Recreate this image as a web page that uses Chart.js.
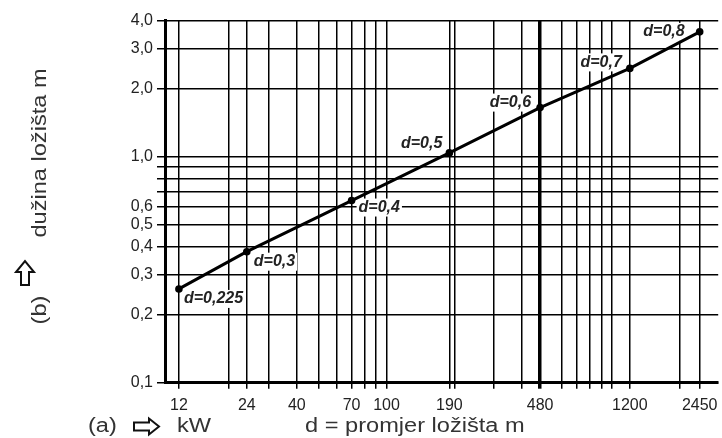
<!DOCTYPE html>
<html>
<head>
<meta charset="utf-8">
<script src="https://cdn.jsdelivr.net/npm/chart.js@4"></script>
<style>
  html, body { margin: 0; padding: 0; background: #ffffff; }
  #c { display: block; }
</style>
</head>
<body>
<canvas id="c" width="722" height="438"></canvas>
<script>
// ---- data ----
const powerKW   = [12, 24, 70, 190, 480, 1200, 2450];
const lengthM   = [0.26, 0.38, 0.64, 1.04, 1.65, 2.46, 3.57];
const diameterM = [0.225, 0.3, 0.4, 0.5, 0.6, 0.7, 0.8];

const xGridValues = [12, 20, 24, 30, 40, 50, 60, 70, 80, 90, 100, 190, 200, 300, 400, 480, 600, 700, 800, 900, 1000, 1200, 2000, 2450];
const xTickLabels = [12, 24, 40, 70, 100, 190, 480, 1200, 2450];
const yGridValues = [0.1, 0.2, 0.3, 0.4, 0.5, 0.6, 0.7, 0.8, 0.9, 1, 2, 3, 4];
const yTickLabels = [0.1, 0.2, 0.3, 0.4, 0.5, 0.6, 1, 2, 3, 4];

const yTitle = 'dužina ložišta m';
const yTitlePrefix = '(b)';
const xTitlePrefix = '(a)';
const xUnit = 'kW';
const xTitle = 'd = promjer ložišta m';

// ---- label placement (style) ----
const labelOffsets = [
  {dx: 5,  dy: 10, align: 'left'},
  {dx: 7,  dy: 10, align: 'left'},
  {dx: 7,  dy: 7,  align: 'left'},
  {dx: -7, dy: -9, align: 'right'},
  {dx: -9, dy: -5, align: 'right'},
  {dx: -8, dy: -6, align: 'right'},
  {dx: -15, dy: 0, align: 'right'}
];
const TITLE_FONT = '20px "Liberation Sans", Arial, sans-serif';
const TITLE_STRETCH = 1.18;

const fmtComma = (v, digits) => v.toFixed(digits).replace('.', ',');

function stretchedText(ctx, txt, x, y, align) {
  const w = ctx.measureText(txt).width * TITLE_STRETCH;
  let left = x;
  if (align === 'center') left = x - w / 2;
  else if (align === 'right') left = x - w;
  ctx.save();
  ctx.translate(left, y);
  ctx.scale(TITLE_STRETCH, 1);
  ctx.textAlign = 'left';
  ctx.fillText(txt, 0, 0);
  ctx.restore();
}

const pointLabelsPlugin = {
  id: 'pointLabels',
  beforeDatasetsDraw(chart) {
    const ctx = chart.ctx;
    const meta = chart.getDatasetMeta(0);
    ctx.save();
    ctx.font = 'italic bold 16px "Liberation Sans", Arial, sans-serif';
    ctx.textBaseline = 'middle';
    meta.data.forEach((pt, i) => {
      const txt = 'd=' + String(diameterM[i]).replace('.', ',');
      const o = labelOffsets[i];
      const w = ctx.measureText(txt).width;
      const x = pt.x + o.dx;
      const y = pt.y + o.dy;
      const left = o.align === 'left' ? x : x - w;
      ctx.fillStyle = '#ffffff';
      ctx.fillRect(left - 2, y - 9, w + 4, 18);
      ctx.fillStyle = '#222222';
      ctx.textAlign = o.align;
      ctx.fillText(txt, x, y);
    });
    ctx.restore();
  }
};

const titlesPlugin = {
  id: 'titles',
  afterDraw(chart) {
    const ctx = chart.ctx;
    ctx.save();
    ctx.fillStyle = '#333333';
    ctx.strokeStyle = '#111111';
    ctx.font = TITLE_FONT;
    ctx.textBaseline = 'alphabetic';

    // vertical title
    ctx.save();
    ctx.translate(46, 0);
    ctx.rotate(-Math.PI / 2);
    stretchedText(ctx, yTitle, -153, 0, 'center');
    stretchedText(ctx, yTitlePrefix, -310, 0, 'center');
    ctx.restore();

    // vertical outline arrow
    ctx.lineWidth = 2;
    ctx.beginPath();
    const ax = 25;
    ctx.moveTo(ax - 4, 285);
    ctx.lineTo(ax + 4, 285);
    ctx.lineTo(ax + 4, 272);
    ctx.lineTo(ax + 9, 272);
    ctx.lineTo(ax, 261);
    ctx.lineTo(ax - 9, 272);
    ctx.lineTo(ax - 4, 272);
    ctx.closePath();
    ctx.stroke();

    // bottom titles
    stretchedText(ctx, xTitlePrefix, 88, 432, 'left');
    stretchedText(ctx, xUnit, 177, 432, 'left');
    stretchedText(ctx, xTitle, 305, 432, 'left');

    // horizontal outline arrow
    ctx.beginPath();
    const ay = 426.5;
    ctx.moveTo(134, ay - 4);
    ctx.lineTo(149, ay - 4);
    ctx.lineTo(149, ay - 8);
    ctx.lineTo(159, ay);
    ctx.lineTo(149, ay + 8);
    ctx.lineTo(149, ay + 4);
    ctx.lineTo(134, ay + 4);
    ctx.closePath();
    ctx.stroke();
    ctx.restore();
  }
};

new Chart(document.getElementById('c'), {
  type: 'scatter',
  data: {
    datasets: [{
      data: powerKW.map((x, i) => ({x: x, y: lengthM[i]})),
      showLine: true,
      borderColor: '#000000',
      borderWidth: 3,
      backgroundColor: '#000000',
      pointRadius: 3.8,
      pointHoverRadius: 3.8,
      pointBorderWidth: 0
    }]
  },
  options: {
    responsive: false,
    devicePixelRatio: 1,
    animation: false,
    events: [],
    layout: { padding: { top: 20.7, right: 0, left: 0, bottom: 0 } },
    plugins: { legend: { display: false }, tooltip: { enabled: false } },
    scales: {
      x: {
        type: 'logarithmic',
        min: 10.41,
        max: 2960,
        afterBuildTicks: s => { s.ticks = xGridValues.map(v => ({value: v})); },
        afterFit: s => { s.height = 55.3; s.paddingLeft = 0; s.paddingRight = 0; },
        ticks: {
          autoSkip: false, maxRotation: 0, minRotation: 0, padding: 7,
          color: '#222222',
          font: { family: '"Liberation Sans", Arial, sans-serif', size: 16 },
          callback: v => xTickLabels.includes(v) ? String(v) : ''
        },
        grid: {
          color: '#000000',
          tickColor: '#000000',
          tickLength: 6,
          lineWidth: c => (c.tick && c.tick.value === 480) ? 3.5 : 1.5
        },
        border: { display: true, color: '#000000', width: 3 }
      },
      y: {
        type: 'logarithmic',
        min: 0.1,
        max: 4,
        afterBuildTicks: s => { s.ticks = yGridValues.map(v => ({value: v})); },
        afterFit: s => { s.width = 165; s.paddingTop = 0; s.paddingBottom = 0; },
        ticks: {
          autoSkip: false, padding: 4,
          color: '#222222',
          font: { family: '"Liberation Sans", Arial, sans-serif', size: 16 },
          callback: v => yTickLabels.includes(v) ? fmtComma(v, 1) : ''
        },
        grid: {
          color: '#000000',
          tickColor: '#000000',
          tickLength: 8,
          lineWidth: 1.5
        },
        border: { display: true, color: '#000000', width: 3 }
      }
    }
  },
  plugins: [pointLabelsPlugin, titlesPlugin]
});
</script>
</body>
</html>
